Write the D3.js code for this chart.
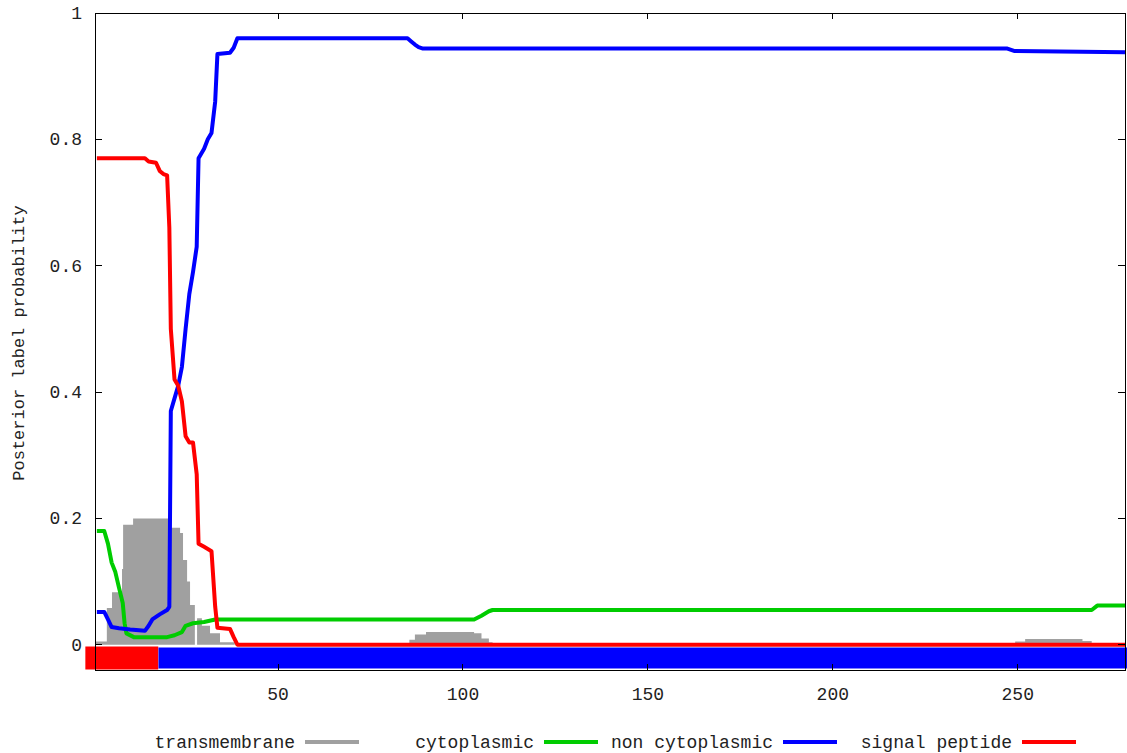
<!DOCTYPE html>
<html>
<head>
<meta charset="utf-8">
<script src="https://cdn.jsdelivr.net/npm/d3@7"></script>
<style>
  body { margin: 0; background: #fff; }
  text { font-family: "Liberation Mono", "DejaVu Sans Mono", monospace; font-size: 18px; fill: #222; }
</style>
</head>
<body>
<div id="chart"></div>
<script>
// posterior probabilities, [residue, probability]
var transmembrane = [[0.5,0.005],[3.7,0.058],[5.1,0.083],[7.8,0.12],[8.1,0.19],[10.8,0.2],[20.8,0.185],
  [23.5,0.177],[24.3,0.134],[25.4,0.1],[26.2,0.063],[27.5,0],[28.1,0.042],[29.4,0.03],[31.6,0.018],
  [34.3,0.004],[38.3,0],[85,0],[85.5,0.008],[87,0.016],[90,0.02],[100,0.02],[103,0.018],[105,0.01],
  [107,0.004],[108,0],[249,0],[249.3,0.005],[252,0.009],[266,0.009],[267.5,0.006],[270,0],[279,0]];
var cytoplasmic = [[1,0.18],[3,0.18],[4,0.16],[5,0.13],[6,0.115],[7,0.09],[8,0.066],[8.5,0.034],[9,0.018],
  [11,0.012],[20,0.012],[22,0.015],[24,0.02],[25,0.03],[27,0.034],[30,0.036],[33,0.04],[103,0.04],
  [105,0.046],[107,0.053],[108,0.055],[270,0.055],[271.5,0.062],[279,0.062]];
var nonCytoplasmic = [[1,0.052],[3,0.052],[4,0.04],[5,0.028],[7,0.026],[10,0.024],[14,0.022],[15,0.03],
  [16,0.04],[18,0.048],[20,0.055],[20.6,0.06],[21,0.37],[22,0.39],[23,0.41],[24,0.44],[25,0.5],[26,0.555],
  [27,0.59],[28,0.63],[28.5,0.77],[30,0.785],[31,0.8],[32,0.81],[33,0.86],[33.6,0.935],[37,0.937],
  [38,0.945],[39,0.96],[85,0.96],[86,0.955],[87,0.95],[88,0.946],[89,0.944],[247,0.944],[249,0.94],[279,0.938]];
var signalPeptide = [[1,0.77],[14,0.77],[15,0.765],[17,0.763],[18,0.75],[19,0.745],[20,0.743],[20.6,0.66],
  [21,0.5],[22,0.42],[23,0.41],[24,0.385],[25,0.33],[26,0.32],[27,0.32],[28,0.27],[28.5,0.16],[30,0.155],
  [32,0.148],[33,0.06],[33.6,0.027],[37,0.025],[38,0.012],[39,0],[279,0]];

// predicted topology (bar segments, drawn with square caps)
var topoLabels = ["signal peptide", "non cytoplasmic"];
var topoFrom = [1, 20.5];
var topoTo = [14.5, 279];

var xTicks = [50, 100, 150, 200, 250];
var yTicks = [0, 0.2, 0.4, 0.6, 0.8, 1];
var legendLabels = ["transmembrane", "cytoplasmic", "non cytoplasmic", "signal peptide"];

function drawChart() {
  var width = 1127, height = 753;
  var pLeft = 95, pRight = 1125, pTop = 13, pBottom = 670;

  var color = d3.scaleOrdinal()
    .domain(legendLabels)
    .range(["#a0a0a0", "#00cc00", "#0000ff", "#ff0000"]);

  var svg = d3.select("#chart").append("svg")
    .attr("width", width)
    .attr("height", height);

  var x = d3.scaleLinear().domain([0.5, 279]).range([pLeft, pRight]);
  var y = d3.scaleLinear().domain([-0.04, 1]).range([pBottom, pTop]);

  // topology bar under the curves
  topoLabels.forEach(function(lab, i) {
    svg.append("line")
      .attr("x1", x(topoFrom[i])).attr("x2", x(topoTo[i]))
      .attr("y1", y(-0.021)).attr("y2", y(-0.021))
      .attr("stroke", color(lab))
      .attr("stroke-width", i == 0 ? 23 : 21)
      .attr("stroke-linecap", "square");
  });

  // transmembrane area
  svg.append("path")
    .datum(transmembrane)
    .attr("fill", color("transmembrane"))
    .attr("d", d3.area()
      .curve(d3.curveStepAfter)
      .x(function(d) { return x(d[0]); })
      .y0(y(0))
      .y1(function(d) { return y(d[1]); }));

  var line = d3.line()
    .x(function(d) { return x(d[0]); })
    .y(function(d) { return y(d[1]); });

  [[cytoplasmic, "cytoplasmic"], [nonCytoplasmic, "non cytoplasmic"], [signalPeptide, "signal peptide"]]
    .forEach(function(s) {
      svg.append("path")
        .datum(s[0])
        .attr("fill", "none")
        .attr("stroke", color(s[1]))
        .attr("stroke-width", 4)
        .attr("stroke-linejoin", "round")
        .attr("d", line);
    });

  // frame
  svg.append("rect")
    .attr("x", pLeft).attr("y", pTop)
    .attr("width", pRight - pLeft).attr("height", pBottom - pTop)
    .attr("fill", "none").attr("stroke", "#000").attr("stroke-width", 1)
    .attr("shape-rendering", "crispEdges");

  // ticks, inward on all sides
  var tickG = svg.append("g").attr("stroke", "#000").attr("shape-rendering", "crispEdges");
  xTicks.forEach(function(t) {
    tickG.append("line").attr("x1", x(t)).attr("x2", x(t)).attr("y1", pBottom).attr("y2", pBottom - 6);
    tickG.append("line").attr("x1", x(t)).attr("x2", x(t)).attr("y1", pTop).attr("y2", pTop + 6);
    svg.append("text").attr("x", x(t)).attr("y", 700).attr("text-anchor", "middle").text(t);
  });
  yTicks.forEach(function(t) {
    tickG.append("line").attr("x1", pLeft).attr("x2", pLeft + 7).attr("y1", y(t)).attr("y2", y(t));
    tickG.append("line").attr("x1", pRight).attr("x2", pRight - 7).attr("y1", y(t)).attr("y2", y(t));
    svg.append("text").attr("x", 82).attr("y", y(t) + 6).attr("text-anchor", "end").text(t);
  });

  svg.append("text")
    .attr("transform", "translate(24,343) rotate(-90)")
    .attr("text-anchor", "middle")
    .style("font-size", "17px")
    .text("Posterior label probability");

  // legend
  legendLabels.forEach(function(lab, i) {
    var ex = 295 + i * 239;
    svg.append("text").attr("x", ex).attr("y", 748).attr("text-anchor", "end").text(lab);
    svg.append("line")
      .attr("x1", ex + 10).attr("x2", ex + 64)
      .attr("y1", 742).attr("y2", 742)
      .attr("stroke", color(lab)).attr("stroke-width", 4);
  });
}

drawChart();
</script>
</body>
</html>
